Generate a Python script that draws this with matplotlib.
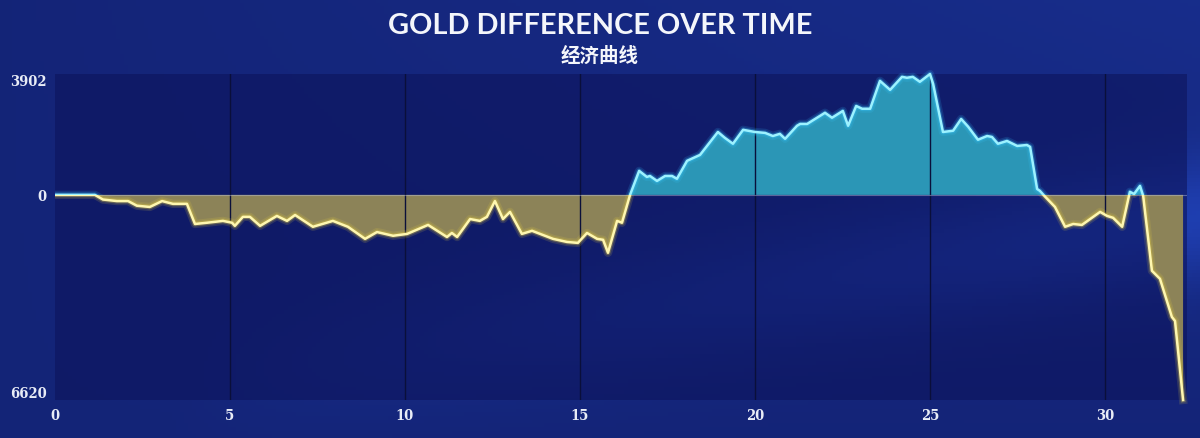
import matplotlib
matplotlib.use("Agg")
import matplotlib.pyplot as plt
import numpy as np
from matplotlib.patches import Rectangle

# game minute and gold difference
minutes = [0, 1.14, 1.37, 1.77, 2.09, 2.34, 2.71, 3.06, 3.37, 3.77, 4.0, 4.34, 4.8, 5.06,
           5.14, 5.37, 5.57, 5.86, 6.34, 6.63, 6.86, 7.37, 7.94, 8.37, 8.86, 9.2, 9.66,
           10.06, 10.66, 11.2, 11.34, 11.49, 11.86, 12.14, 12.34, 12.57, 12.8, 13.0, 13.34,
           13.63, 14.23, 14.63, 14.94, 15.2, 15.49, 15.66, 15.8, 16.06, 16.2, 16.43, 16.69,
           16.91, 17.0, 17.2, 17.43, 17.63, 17.77, 18.06, 18.43, 18.94, 19.14, 19.37, 19.66,
           20.0, 20.29, 20.51, 20.71, 20.86, 21.2, 21.29, 21.49, 22.0, 22.2, 22.51, 22.66,
           22.89, 23.06, 23.29, 23.57, 23.86, 24.2, 24.34, 24.51, 24.71, 25.0, 25.09, 25.37,
           25.66, 25.89, 26.09, 26.37, 26.63, 26.77, 26.94, 27.2, 27.49, 27.77, 27.86, 28.06,
           28.14, 28.29, 28.57, 28.86, 29.09, 29.34, 29.86, 30.06, 30.23, 30.49, 30.71, 30.83,
           31.0, 31.09, 31.34, 31.57, 31.91, 32.0, 32.23]
gold_diff = [0, 0, -150, -200, -200, -350, -390, -200, -290, -290, -940, -900, -840, -900,
             -1000, -710, -710, -1000, -680, -840, -650, -1030, -840, -1030, -1420, -1200,
             -1320, -1260, -970, -1360, -1230, -1360, -780, -840, -710, -200, -780, -550,
             -1260, -1160, -1420, -1520, -1550, -1230, -1420, -1450, -1870, -840, -900, 0,
             775, 580, 610, 450, 610, 610, 520, 1100, 1290, 2030, 1840, 1650, 2100, 2030, 2000,
             1900, 1970, 1810, 2230, 2290, 2290, 2650, 2490, 2710, 2230, 2870, 2780, 2780,
             3680, 3390, 3810, 3780, 3810, 3650, 3902, 3580, 2030, 2070, 2450, 2200, 1780,
             1900, 1870, 1650, 1740, 1580, 1610, 1550, 190, 130, -60, -390, -1030, -940, -970,
             -550, -680, -740, -1030, 100, 30, 290, -30, -2450, -2710, -3940, -4070, -6620]

x_ticks = [0, 5, 10, 15, 20, 25, 30]
y_max, y_min = 3902, -6620

x = np.array(minutes)
y = np.array(gold_diff)

fig = plt.figure(figsize=(12, 4.39), dpi=100)

# background gradient with a faint diagonal streak
bg = fig.add_axes([0, 0, 1, 1])
gx, gy = np.meshgrid(np.linspace(0, 1, 300), np.linspace(0, 1, 120))
streak = np.exp(-((gy - 0.95 + 0.45 * gx) ** 2) / 0.02) * np.clip(gx * 1.4 - 0.2, 0, 1)
base = 0.3 + 0.25 * (1 - gy) * gx + 0.6 * streak
img = np.dstack([0.06 + 0.06 * base, 0.10 + 0.14 * base, 0.38 + 0.30 * base])
bg.imshow(np.clip(img, 0, 1), extent=[0, 1, 0, 1], aspect="auto", origin="upper")
bg.axis("off")

ax = fig.add_axes([0.0458, 0.0866, 0.9433, 0.7426])
ax.set_facecolor((0.05, 0.08, 0.36, 0.6))

ax.fill_between(x, y, 0, where=y >= 0, interpolate=True, color="#2b96b6", lw=0, zorder=2)
ax.fill_between(x, y, 0, where=y <= 0, interpolate=True, color="#8c8358", lw=0, zorder=2)

for xt in x_ticks[1:]:
    ax.axvline(xt, color="#0a0f3a", lw=1, zorder=3)
ax.axhline(0, color="#b9c0d8", lw=0.8, alpha=0.45, zorder=3)

upper = Rectangle((0, 0), 40, 10000, transform=ax.transData)
lower = Rectangle((0, -10000), 40, 10000, transform=ax.transData)
for clip, col, glow in [(upper, "#9df2ff", "#38c8ff"), (lower, "#fff7b0", "#e8d040")]:
    for lw, a in [(6, 0.15), (3.5, 0.3)]:
        g, = ax.plot(x, y, color=glow, lw=lw, alpha=a, zorder=4, solid_joinstyle="round")
        g.set_clip_path(clip)
    ln, = ax.plot(x, y, color=col, lw=1.8, zorder=5, solid_joinstyle="round")
    ln.set_clip_path(clip)

ax.set_xlim(0, 32.34)
ax.set_ylim(y_min, y_max)
for s in ax.spines.values():
    s.set_visible(False)

tick_font = dict(family=["DejaVu Serif", "DejaVu Sans"], stretch="condensed",
                 weight="bold", size=10.5)
ax.set_xticks(x_ticks)
ax.set_xticklabels([str(t) for t in x_ticks], color="#e8ecf6", **tick_font)
ax.set_yticks([y_max, 0, y_min])
ax.set_yticklabels([str(y_max), "0", str(abs(y_min))], color="#e8ecf6", **tick_font)
ax.tick_params(length=0, pad=6)
labs = ax.get_yticklabels()
labs[0].set_va("top")
labs[2].set_va("bottom")

fig.text(0.5, 0.94, "GOLD DIFFERENCE OVER TIME", ha="center", va="center",
         color="#f4f6fb", fontsize=20.8, fontweight="bold", family=["Lato", "DejaVu Sans"])
fig.text(0.5, 0.872, "经济曲线", ha="center", va="center", color="#f4f6fb",
         fontsize=14, fontweight="bold", family=["Noto Sans CJK SC", "DejaVu Sans"])

fig.savefig("out.png", dpi=100)
